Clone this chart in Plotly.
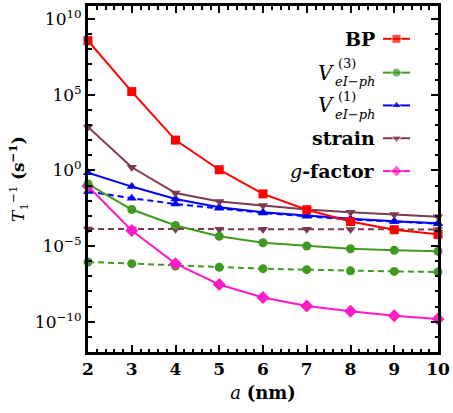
import plotly.graph_objects as go

a_nm = [2, 3, 4, 5, 6, 7, 8, 9, 10]

bp = [3.7e8, 1.6e5, 1.0e2, 1.1, 2.8e-2, 2.5e-3, 4.2e-4, 1.2e-4, 5.9e-5]
v3_solid = [0.126, 2.6e-3, 2.3e-4, 4.4e-5, 1.66e-5, 1.0e-5, 6.6e-6, 5.2e-6, 4.5e-6]
v3_dash = [8.9e-7, 6.9e-7, 4.8e-7, 4.0e-7, 3.2e-7, 2.75e-7, 2.3e-7, 2.1e-7, 1.95e-7]
v1_solid = [0.7, 8.5e-2, 1.3e-2, 3.7e-3, 1.7e-3, 1.05e-3, 6.3e-4, 4.4e-4, 3.2e-4]
v1_dash = [4.0e-2, 1.45e-2, 6.0e-3, 3.2e-3, 1.55e-3, 9.3e-4, 5.6e-4, 4.2e-4, 3.0e-4]
strain_solid = [7.4e2, 1.6, 3.2e-2, 8.7e-3, 4.8e-3, 2.6e-3, 1.7e-3, 1.2e-3, 8.5e-4]
strain_dash = [1.35e-4, 1.35e-4, 1.3e-4, 1.3e-4, 1.3e-4, 1.3e-4, 1.25e-4, 1.25e-4, 1.25e-4]
gfactor = [8.9e-2, 1.07e-4, 6.9e-7, 2.9e-8, 4.0e-9, 1.1e-9, 5.0e-10, 2.5e-10, 1.5e-10]

RED = "#ff0000"
GREEN = "#3f9a22"
BLUE = "#0000ff"
BROWN = "#7b3a50"
MAGENTA = "#ff1ac6"

FONT = "DejaVu Serif"

series = [
    (strain_dash, BROWN, "triangle-down", "dash"),
    (v3_dash, GREEN, "circle", "dash"),
    (v1_dash, BLUE, "triangle-up", "dash"),
    (gfactor, MAGENTA, "diamond", "solid"),
    (v3_solid, GREEN, "circle", "solid"),
    (v1_solid, BLUE, "triangle-up", "solid"),
    (strain_solid, BROWN, "triangle-down", "solid"),
    (bp, RED, "square", "solid"),
]

fig = go.Figure()
for ys, col, sym, dash in series:
    fig.add_trace(go.Scatter(
        x=a_nm, y=ys, mode="lines+markers",
        line=dict(color=col, width=2, dash=("6px,4px" if dash == "dash" else "solid")),
        marker=dict(symbol=sym, size=9 if sym != "diamond" else 10, color=col),
        cliponaxis=False, showlegend=False,
    ))

def px2x(px):
    return (px - 88) / 350.0

def py2y(py):
    return 1 - (py - 3) / 348.0

# custom legend (text left of key)
leg_cols = [RED, GREEN, BLUE, BROWN, MAGENTA]
leg_syms = ["square", "circle", "triangle-up", "triangle-down", "diamond"]
leg_py = [36, 70, 103, 136, 169]
for col, sym, py in zip(leg_cols, leg_syms, leg_py):
    yy = py2y(py)
    fig.add_trace(go.Scatter(
        x=[px2x(383), px2x(396.5), px2x(410)], y=[yy, yy, yy], xaxis="x2", yaxis="y2",
        mode="lines+markers", line=dict(color=col, width=2),
        marker=dict(symbol=sym, size=[0, 9, 0], color=col),
        showlegend=False, hoverinfo="skip", cliponaxis=False,
    ))

def ann(text, px, py, anchor, size):
    fig.add_annotation(x=px2x(px), y=py2y(py), xref="paper", yref="paper", text=text,
                       showarrow=False, xanchor=anchor, yanchor="middle",
                       font=dict(family=FONT, size=size, color="black"))

ann("<b>BP</b>", 377, 36, "right", 19)
for sup, py in (("(3)", 70), ("(1)", 103)):
    ann("<i>V</i>", 337, py, "right", 20)
    ann(sup, 336, py - 9, "left", 13)
    ann("<i>eI−ph</i>", 377, py + 9, "right", 13)
ann("<b>strain</b>", 377, 136, "right", 19)
ann("<i>g</i><b>-factor</b>", 377, 169, "right", 19)

major_vals = [1e-10, 1e-5, 1e0, 1e5, 1e10]
major_text = ["10<sup>−10</sup>", "10<sup>−5</sup>", "10<sup>0</sup>", "10<sup>5</sup>", "10<sup>10</sup>"]
minor_vals = [10.0 ** k for k in range(-12, 11)]

fig.update_layout(
    width=453, height=413,
    margin=dict(l=88, r=15, t=3, b=61),
    paper_bgcolor="white", plot_bgcolor="white",
    font=dict(family=FONT, size=17, color="black"),
    xaxis=dict(
        range=[2, 10], tickmode="array", tickvals=a_nm,
        ticktext=[f"<b>{v}</b>" for v in a_nm],
        ticks="inside", ticklen=7, tickwidth=1.5, tickcolor="black",
        minor=dict(dtick=0.2, tick0=2, ticks="inside", ticklen=3.5, tickwidth=1.5, tickcolor="black"),
        showline=True, linewidth=3, linecolor="black", mirror="allticks",
        showgrid=False, zeroline=False, ticklabeloverflow="allow",
        tickfont=dict(size=17),
        title=dict(text="<i>a</i> <b>(nm)</b>", font=dict(size=18), standoff=8),
    ),
    yaxis=dict(
        type="log", range=[-12, 10.86], tickmode="array",
        tickvals=major_vals, ticktext=major_text,
        ticks="inside", ticklen=7, tickwidth=1.5, tickcolor="black",
        minor=dict(tickmode="array", tickvals=minor_vals, ticks="inside", ticklen=3.5, tickwidth=1.5, tickcolor="black"),
        showline=True, linewidth=3, linecolor="black", mirror="allticks",
        showgrid=False, zeroline=False,
        tickfont=dict(size=17),
        title=dict(text="<i>T</i><sub>1</sub><sup>−1</sup> <b>(s<sup>−1</sup>)</b>", font=dict(size=17), standoff=6),
    ),
    xaxis2=dict(overlaying="x", range=[0, 1], visible=False),
    yaxis2=dict(overlaying="y", range=[0, 1], visible=False),
)

fig.write_html("out.html", config={"displayModeBar": False},
               post_script="document.body.style.margin='0px';")
